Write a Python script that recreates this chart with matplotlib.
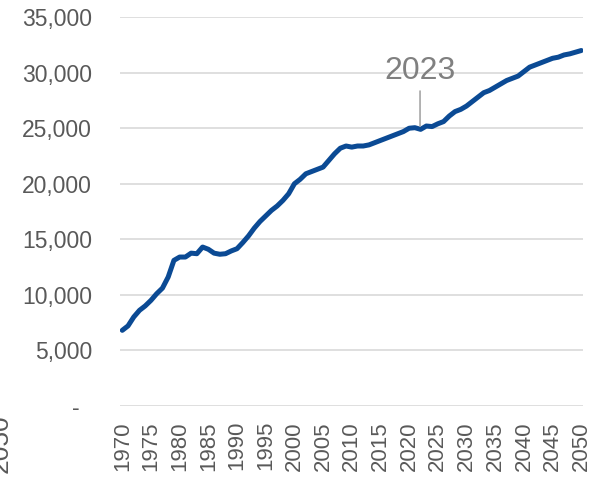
import numpy as np
import matplotlib
matplotlib.use("Agg")
import matplotlib.pyplot as plt

plt.rcParams['font.family'] = ['Liberation Sans', 'DejaVu Sans']

years = list(range(1970, 2051))
values = [
    6800, 7200, 8000, 8600, 9000, 9500, 10100, 10600, 11600, 13100,   # 1970-1979
    13400, 13400, 13750, 13700, 14300, 14100, 13750, 13650, 13700, 13950,  # 1980-1989
    14150, 14700, 15300, 16000, 16600, 17100, 17600, 18000, 18500, 19100,  # 1990-1999
    20000, 20400, 20900, 21100, 21300, 21500, 22100, 22700, 23200, 23400,  # 2000-2009
    23300, 23400, 23400, 23500, 23700, 23900, 24100, 24300, 24500, 24700,  # 2010-2019
    25000, 25050, 24900, 25200, 25150, 25400, 25600, 26100, 26500, 26700,  # 2020-2029
    27000, 27400, 27800, 28200, 28400, 28700, 29000, 29300, 29500, 29700,  # 2030-2039
    30100, 30500, 30700, 30900, 31100, 31300, 31400, 31600, 31700, 31850,  # 2040-2049
    32000,                                                               # 2050
]
xtick_years = list(range(1970, 2051, 5))
ytick_values = list(range(0, 35001, 5000))
ytick_labels = ['-  '] + [f"{v:,}" for v in ytick_values[1:]]
annot_label = "2023"
annot_year = 2021.9

LINE_COLOR = '#0B4A94'
TEXT_COLOR = '#595959'

fig = plt.figure(figsize=(6.06, 4.78), dpi=100)
ax = fig.add_axes([0.198, 0.151, 0.764, 0.813])

ax.plot(years, values, color=LINE_COLOR, lw=3.6, solid_capstyle='round', zorder=3)

ax.set_ylim(0, 35000)
ax.set_xlim(1969.6, 2050.3)
ax.set_yticks(ytick_values)
ax.set_yticklabels(ytick_labels)
ax.set_xticks(xtick_years)
ax.set_xticklabels([str(y) for y in xtick_years], rotation=90)

ax.grid(axis='y', color='#d9d9d9', lw=1.2)
ax.set_axisbelow(True)
for s in ax.spines.values():
    s.set_visible(False)
ax.tick_params(axis='both', length=0, colors=TEXT_COLOR, labelsize=16)
ax.tick_params(axis='y', pad=20, labelsize=16.5)
ax.tick_params(axis='x', pad=11)

# marker for the current year
idx = years.index(2022)
ax.annotate(annot_label, xy=(annot_year, values[idx] + 300),
            xytext=(annot_year, 30200), ha='center', va='center',
            fontsize=23, color='#808080',
            arrowprops=dict(arrowstyle='-', color='#a6a6a6', lw=1.2,
                            shrinkA=2, shrinkB=0))

# clipped label from neighbouring chart
fig.text(0.021, 1 - 414 / 478, "2050", rotation=90, ha='right', va='top',
         fontsize=19, color=TEXT_COLOR)

fig.savefig("out.png", dpi=100)
